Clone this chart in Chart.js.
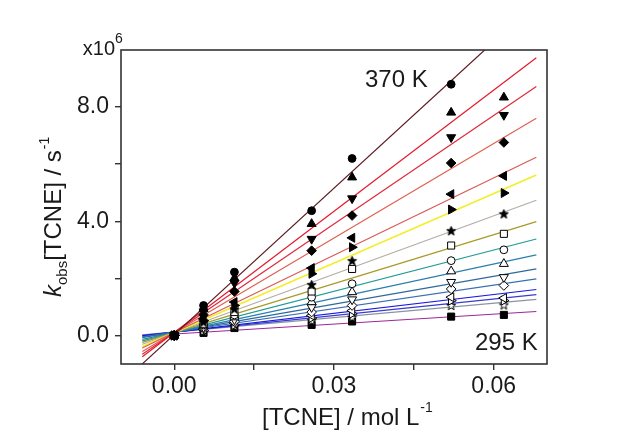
<!DOCTYPE html>
<html>
<head>
<meta charset="utf-8">
<script src="https://cdn.jsdelivr.net/npm/chart.js@4.4.1/dist/chart.umd.min.js"></script>
<style>
  html, body { margin: 0; padding: 0; background: #fff; }
  #wrap { width: 626px; height: 433px; position: relative; }
</style>
</head>
<body>
<div id="wrap"><canvas id="c"></canvas></div>
<script>
// [TCNE] concentrations (mol/L) where kobs was measured
const CONC = [0, 0.0055, 0.0113, 0.0258, 0.0334, 0.052, 0.0619];
const TEMPS = [370, 365, 360, 355, 350, 345, 340, 335, 330, 325, 320, 315, 310, 305, 300, 295];

// kobs[TCNE] in units of 1e6 s^-1, one row per temperature
const K370 = [0, 1.05, 2.22, 4.37, 6.20, 8.80, null];
const K365 = [0, 0.93, 2.01, 3.91, 5.54, 7.81, 8.34];
const K360 = [0, 0.84, 1.84, 3.38, 4.80, 6.94, 7.72];
const K355 = [0, 0.72, 1.54, 2.97, 4.20, 6.04, 6.76];
const K350 = [0, 0.58, 1.17, 2.36, 3.42, 4.95, 5.59];
const K345 = [0, 0.52, 1.05, 2.16, 3.09, 4.41, 4.99];
const K340 = [0, 0.47, 0.93, 1.78, 2.62, 3.67, 4.26];
const K335 = [0, 0.41, 0.82, 1.54, 2.33, 3.15, 3.56];
const K330 = [0, 0.37, 0.72, 1.34, 1.81, 2.62, 3.00];
const K325 = [0, 0.33, 0.64, 1.17, 1.52, 2.25, 2.51];
const K320 = [0, 0.29, 0.56, 0.99, 1.26, 1.87, 2.04];
const K315 = [0, 0.26, 0.49, 0.82, 1.05, 1.63, 1.75];
const K310 = [0, 0.21, 0.43, 0.70, 0.87, 1.34, 1.31];
const K305 = [0, 0.17, 0.37, 0.61, 0.76, 1.22, 1.22];
const K300 = [0, 0.14, 0.33, 0.52, 0.64, 1.05, 1.07];
const K295 = [0, 0.09, 0.26, 0.37, 0.49, 0.66, 0.72];
const SERIES = [K370, K365, K360, K355, K350, K345, K340, K335, K330, K325, K320, K315, K310, K305, K300, K295];

// linear fits (slope in 1e6 L mol^-1 s^-1, intercept in 1e6 s^-1)
const FIT_SLOPE = [171, 141.6, 126.8, 110.4, 90.3, 81.2, 68.2, 57.2, 48.2, 40.0, 32.5, 27.4, 21.9, 19.3, 16.8, 11.6];
const FIT_INTERCEPT = [0.03, 0.1, 0.1, 0.1, 0.1, 0.1, 0.1, 0.1, 0.1, 0.1, 0.12, 0.12, 0.12, 0.12, 0.12, 0.05];
const FIT_RANGE = [-0.006, 0.068];

const X_TICKS = [0, 0.015, 0.03, 0.045, 0.06];
const Y_TICKS = [0, 2, 4, 6, 8];

const LINE_COLORS = ["#5c1a1e", "#e31a2c", "#e0283c", "#e06050", "#d85a55", "#f2ee2a", "#b5aca5", "#a89a2a",
  "#1f9c94", "#2a7fb0", "#2e6a9c", "#3a6fb5", "#1a1ae0", "#3b3bd0", "#8a94a0", "#9c2898"];

function starImg(fill) {
  const c = document.createElement("canvas");
  c.width = c.height = 11;
  const g = c.getContext("2d");
  g.beginPath();
  for (let i = 0; i < 10; i++) {
    const r = i % 2 ? 2.0 : 4.8;
    const a = -Math.PI / 2 + i * Math.PI / 5;
    g.lineTo(5.5 + r * Math.cos(a), 5.9 + r * Math.sin(a));
  }
  g.closePath();
  g.fillStyle = fill;
  g.fill();
  g.lineWidth = 1;
  g.strokeStyle = "#000";
  g.stroke();
  return c;
}
const STAR_F = starImg("#000"), STAR_O = starImg("#fff");

// marker per temperature: [style, rotation, filled]
const MARKERS = [
  ["circle", 0, true], ["triangle", 0, true], ["triangle", 180, true], ["rectRot", 0, true],
  ["triangle", 270, true], ["triangle", 90, true], [STAR_F, 0, true], ["rect", 0, false],
  ["circle", 0, false], ["triangle", 0, false], ["triangle", 180, false], ["rectRot", 0, false],
  ["triangle", 270, false], ["triangle", 90, false], [STAR_O, 0, false], ["rect", 0, true],
];
const RADIUS = { circle: 3.9, triangle: 5.2, rectRot: 4.8, rect: 5.0 };

const FONT = "'Liberation Sans', Arial, sans-serif";
const INK = "#1a1a1a";

const datasets = [];
SERIES.forEach((s, i) => {
  const m = MARKERS[i];
  datasets.push({
    label: TEMPS[i] + " K",
    data: CONC.map((x, j) => ({ x, y: s[j] })).filter((p) => p.y !== null),
    pointStyle: m[0],
    rotation: m[1],
    pointRadius: RADIUS[m[0]] || 5,
    pointBackgroundColor: m[2] ? "#000" : "#fff",
    pointBorderColor: "#000",
    pointBorderWidth: 1,
    showLine: false,
    order: 0,
  });
});
SERIES.forEach((s, i) => {
  datasets.push({
    label: "fit " + TEMPS[i] + " K",
    data: FIT_RANGE.map((x) => ({ x, y: FIT_INTERCEPT[i] + FIT_SLOPE[i] * x })),
    showLine: true,
    borderColor: LINE_COLORS[i],
    borderWidth: i === 5 ? 1.6 : 1.2,
    pointRadius: 0,
    order: 1,
  });
});

const decor = {
  id: "decor",
  afterDraw(chart) {
    const ctx = chart.ctx, a = chart.chartArea;
    ctx.save();
    ctx.strokeStyle = "#333";
    ctx.lineWidth = 1.6;
    ctx.strokeRect(a.left, a.top, a.right - a.left, a.bottom - a.top);

    ctx.fillStyle = INK;
    ctx.textBaseline = "alphabetic";
    ctx.textAlign = "left";
    ctx.font = "24px " + FONT;
    ctx.fillText("370 K", 365, 87);
    ctx.fillText("295 K", 475, 350);

    // multiplier
    ctx.font = "20px " + FONT;
    ctx.textAlign = "right";
    ctx.fillText("x10", 115, 55);
    ctx.textAlign = "left";
    ctx.font = "14px " + FONT;
    ctx.fillText("6", 115, 43);

    // x title
    ctx.font = "24px " + FONT;
    ctx.fillText("[TCNE] / mol L", 262, 425);
    let w = ctx.measureText("[TCNE] / mol L").width;
    ctx.font = "14px " + FONT;
    ctx.fillText("-1", 262 + w + 1, 412);

    // y title
    ctx.translate(61, 297);
    ctx.rotate(-Math.PI / 2);
    let x = 0;
    ctx.font = "italic 24px " + FONT;
    ctx.fillText("k", x, 0);
    x += ctx.measureText("k").width;
    ctx.font = "15px " + FONT;
    ctx.fillText("obs", x, 6);
    x += ctx.measureText("obs").width;
    ctx.font = "24px " + FONT;
    ctx.fillText("[TCNE] / s", x, 0);
    x += ctx.measureText("[TCNE] / s").width + 1;
    ctx.font = "14px " + FONT;
    ctx.fillText("-1", x, -12);
    ctx.restore();
  },
};

const axisGrid = { display: true, drawOnChartArea: false, drawTicks: true, tickLength: 6, color: "#333", lineWidth: 1.4 };

new Chart(document.getElementById("c"), {
  type: "scatter",
  data: { datasets },
  options: {
    responsive: true,
    maintainAspectRatio: false,
    animation: false,
    layout: { padding: { left: 0, right: 79, top: 50, bottom: 0 } },
    plugins: { legend: { display: false }, tooltip: { enabled: false } },
    scales: {
      x: {
        type: "linear", min: -0.01, max: 0.07,
        grid: axisGrid,
        border: { display: false },
        afterBuildTicks: (ax) => { ax.ticks = X_TICKS.map((v) => ({ value: v })); },
        afterFit: (ax) => { ax.height = 69; },
        ticks: {
          padding: 3, color: INK, maxRotation: 0, autoSkip: false,
          font: { family: FONT, size: 23 },
          callback: (v, i) => (i % 2 === 0 ? Number(v).toFixed(2) : ""),
        },
      },
      y: {
        type: "linear", min: -1, max: 10,
        grid: axisGrid,
        border: { display: false },
        afterBuildTicks: (ax) => { ax.ticks = Y_TICKS.map((v) => ({ value: v })); },
        afterFit: (ax) => { ax.width = 121; },
        ticks: {
          padding: 6, color: INK, autoSkip: false,
          font: { family: FONT, size: 23 },
          callback: (v, i) => (i % 2 === 0 ? Number(v).toFixed(1) : ""),
        },
      },
    },
  },
  plugins: [decor],
});
</script>
</body>
</html>
